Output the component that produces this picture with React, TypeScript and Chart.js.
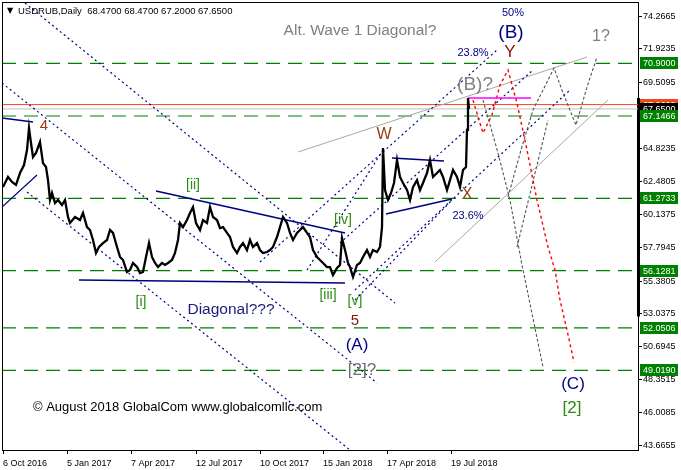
import React, { useEffect, useRef } from 'react';
import { Chart, registerables } from 'chart.js';
Chart.register(...registerables);

const FONT = '"Liberation Sans", Arial, Helvetica, sans-serif';

// ---- price series (bar index: 1 bar per trading day from 6 Oct 2016) ----
const priceBars = [0,5,9,13,17,21,24,26,28,30,33,37,40,43,45,47,49,52,55,59,62,65,67,72,77,80,84,87,90,93,96,100,104,107,110,114,117,120,124,127,130,134,137,140,143,146,149,152,155,159,162,165,169,172,175,177,180,184,187,190,193,197,200,204,207,210,214,217,220,224,227,230,234,237,240,244,247,250,254,257,260,264,267,270,274,277,280,284,287,290,294,297,300,304,307,310,314,317,320,324,327,330,334,337,339,342,345,347,350,354,357,360,364,367,370,374,377,379,380,382,385,388,391,394,397,400,404,407,410,414,417,420,424,427,430,434,437,440,444,447,450,454,457,460,463,464,465,466];
const priceCloses = [62.08,62.80,62.44,62.23,63.08,63.65,64.72,66.29,65.22,64.22,64.51,65.29,63.79,63.51,62.58,61.16,61.66,60.94,61.16,60.80,61.16,59.95,59.52,59.95,59.73,60.23,59.23,59.02,58.31,57.38,57.81,58.09,58.31,59.02,58.81,57.81,57.10,56.88,56.03,56.17,56.67,56.38,55.95,56.03,57.10,58.09,57.10,56.67,56.38,56.67,56.53,56.67,56.88,57.38,58.31,59.52,59.23,59.73,60.23,60.66,59.52,59.02,59.73,59.52,60.66,59.95,59.73,59.16,59.23,58.81,58.52,57.81,57.38,57.81,58.09,57.59,58.31,57.81,58.09,57.59,57.38,57.45,57.59,57.81,58.52,59.23,59.95,59.52,58.81,58.31,58.81,59.02,59.23,58.81,58.52,57.59,57.10,56.88,56.67,56.38,56.38,55.81,56.31,56.53,58.45,57.59,56.67,56.38,55.67,56.53,56.67,57.10,57.59,57.10,57.59,57.45,57.81,59.23,64.86,61.87,61.16,61.66,62.37,64.01,62.80,62.37,61.87,61.16,62.08,62.58,61.87,62.37,63.08,64.01,62.80,63.08,63.30,62.80,61.87,62.58,63.30,62.80,62.08,63.30,63.51,66.15,68.43,67.65];

// ---- axes ----
const xTickBars = [0, 64, 128, 193, 257, 320, 384, 448];
const xTickLabels = ['6 Oct 2016', '5 Jan 2017', '7 Apr 2017', '12 Jul 2017', '10 Oct 2017', '15 Jan 2018', '17 Apr 2018', '19 Jul 2018'];
const yTickValues = [74.2665, 71.9235, 69.5095, 64.8235, 62.4805, 60.1375, 57.7945, 55.3805, 53.0375, 50.6945, 48.3515, 46.0085, 43.6655];
const yTickLabels = ['74.2665', '71.9235', '69.5095', '64.8235', '62.4805', '60.1375', '57.7945', '55.3805', '53.0375', '50.6945', '48.3515', '46.0085', '43.6655'];

// ---- horizontal levels ----
const levelValues = [70.9, 67.1466, 61.2733, 56.1281, 52.0506, 49.019];
const levelLabels = ['70.9000', '67.1466', '61.2733', '56.1281', '52.0506', '49.0190'];
const askLevel = 67.96;
const askLabel = '67.9600';
const bidLevel = 67.65;
const bidLabel = '67.6500';
const ohlcValues = ['68.4700', '68.4700', '67.2000', '67.6500'];
const rangeBar = [[635.5, 68.43], [635.5, 52.85]];

// ---- drawn trend lines (bar, price) ----
const dotL1 = [[22, 75.198], [392, 53.817]];
const dotL2 = [[-1, 69.496], [374, 48.115]];
const dotL4 = [[24, 61.727], [347, 43.34]];
const dotU1 = [[257, 56.739], [494, 71.848]];
const dotU2 = [[337, 58.093], [530, 70.423]];
const dotU3 = [[352, 54.743], [567, 68.997]];
const dotU4 = [[352, 54.03], [449, 61.157]];
const dotU5 = [[304, 56.168], [380, 64.721]];
const solidN1 = [[-1, 67.002], [30, 66.717]];
const solidN2 = [[-1, 60.659], [34, 62.94]];
const solidN3 = [[153, 61.799], [342, 58.805]];
const solidN4 = [[76, 55.456], [342, 55.242]];
const solidN5 = [[389, 64.15], [441, 63.937]];
const solidN6 = [[383, 60.16], [449, 61.229]];
const grayG1 = [[295, 64.578], [584, 71.349]];
const grayG2 = [[432, 56.739], [605, 68.284]];
const magentaB = [[465, 68.427], [528, 68.427]];
const pathP1 = [[480, 68.284], [495, 64.507], [507, 61.157], [519, 56.525], [540, 49.255]];
const pathP2 = [[505, 61.371], [518, 64.721], [530, 67.572], [551, 70.565], [560, 68.783], [573, 66.503], [584, 69.211], [594, 71.349]];
const pathP3 = [[514, 57.808], [545, 66.859]];
const pathRed = [[470, 68.28], [480, 65.93], [489, 67.22], [497, 69.35], [505, 70.42], [514, 68.07], [524, 64.72], [534, 61.16], [545, 57.81], [552, 56.17], [557, 54.03], [564, 51.89], [571, 49.61]];

// ---- text labels (text, bar, price) ----
const noteTexts = ['Alt. Wave 1 Diagonal?', '4', '[ii]', '[i]', 'Diagonal???', '[iv]', '[iii]', '[v]', '5', '(A)', '[2]?', 'W', 'X', '23.6%', '(B)?', '23.8%', 'Y', '(B)', '50%', '1?', '(C)', '[2]'];
const noteBars = [357, 41, 190, 138, 228, 340, 325, 352, 352, 354, 359, 381, 464, 465, 472, 470, 507, 508, 510, 598, 570, 569];
const notePrices = [73.202, 66.431, 62.226, 53.888, 53.318, 59.732, 54.387, 53.96, 52.534, 50.823, 49.04, 65.79, 61.514, 60.017, 69.353, 71.634, 71.705, 73.06, 74.485, 72.774, 48.043, 46.333];
const copyrightText = '© August 2018 GlobalCom www.globalcomllc.com';
const copyrightPos = [30, 46.404];

const NAVY = '#000080';
const GREEN = '#2a8a12';
const BROWN = '#9a3a10';
const DARKRED = '#8b1010';
const GRAY = '#808080';
const noteStyle: Record<string, [string, number]> = {
  'Alt. Wave 1 Diagonal?': [GRAY, 15.5],
  '4': [BROWN, 15],
  '[ii]': [GREEN, 14],
  '[i]': [GREEN, 14],
  'Diagonal???': ['#1c1a78', 15.5],
  '[iv]': [GREEN, 14],
  '[iii]': [GREEN, 14],
  '[v]': [GREEN, 14],
  '5': [DARKRED, 15],
  '(A)': [NAVY, 17],
  '[2]?': ['#6e6e6e', 17],
  'W': [BROWN, 16],
  'X': [BROWN, 16],
  '23.6%': [NAVY, 11],
  '(B)?': [GRAY, 19],
  '23.8%': [NAVY, 11],
  'Y': [DARKRED, 17],
  '(B)': [NAVY, 19],
  '50%': [NAVY, 11],
  '1?': [GRAY, 16],
  '(C)': [NAVY, 17],
  '[2]': [GREEN, 17],
};

function seg(points: number[][], color: string, width: number, dash: number[] = [], clip: any = undefined) {
  const ds: any = {
    type: 'line',
    data: points.map(([x, y]) => ({ x, y })),
    borderColor: color,
    borderWidth: width,
    borderDash: dash,
    pointRadius: 0,
    fill: false,
    tension: 0,
  };
  if (clip !== undefined) ds.clip = clip;
  return ds;
}

const overlay = {
  id: 'overlay',
  afterDatasetsDraw(chart: any) {
    const { ctx, scales } = chart;
    const xs = scales.x, ys = scales.y;
    ctx.save();
    ctx.textAlign = 'center';
    ctx.textBaseline = 'middle';
    noteTexts.forEach((t, i) => {
      const [color, size] = noteStyle[t];
      ctx.font = `${size}px ${FONT}`;
      ctx.fillStyle = color;
      ctx.fillText(t, xs.getPixelForValue(noteBars[i]), ys.getPixelForValue(notePrices[i]));
    });
    ctx.textAlign = 'left';
    ctx.font = `13px ${FONT}`;
    ctx.fillStyle = '#000';
    ctx.fillText(copyrightText, xs.getPixelForValue(copyrightPos[0]), ys.getPixelForValue(copyrightPos[1]));
    ctx.restore();
  },
  afterDraw(chart: any) {
    const { ctx, chartArea, scales } = chart;
    const ys = scales.y;
    ctx.save();
    ctx.strokeStyle = '#000';
    ctx.lineWidth = 1;
    ctx.strokeRect(chartArea.left + 0.5, chartArea.top - 0.5, chartArea.right - chartArea.left, chartArea.bottom - chartArea.top + 1);
    // title
    ctx.fillStyle = '#000';
    ctx.textBaseline = 'middle';
    ctx.textAlign = 'center';
    ctx.font = `8px "DejaVu Sans", sans-serif`;
    ctx.fillText('▼', chartArea.left + 8, chartArea.top + 8);
    ctx.textAlign = 'left';
    ctx.font = `9.5px ${FONT}`;
    ctx.fillText('USDRUB,Daily  ' + ohlcValues.join(' '), chartArea.left + 16, chartArea.top + 8);
    // price labels on the axis
    const box = (v: number, text: string, bg: string, fg: string) => {
      const y = ys.getPixelForValue(v);
      ctx.fillStyle = bg;
      ctx.fillRect(chartArea.right + 2, Math.round(y) - 6, 38, 12);
      ctx.fillStyle = fg;
      ctx.font = `9px ${FONT}`;
      ctx.fillText(text, chartArea.right + 5, Math.round(y) + 0.5);
    };
    box(askLevel, askLabel, '#f04a1a', '#fff');
    box(bidLevel, bidLabel, '#000', '#fff');
    levelValues.forEach((v, i) => box(v, levelLabels[i], '#008000', '#fff'));
    ctx.restore();
  },
};

export default function App() {
  const ref = useRef<HTMLCanvasElement | null>(null);
  useEffect(() => {
    if (!ref.current) return;
    const full = (v: number) => [[-1, v], [635, v]];
    const dotted = [2, 3];
    const datasets: any[] = [
      seg(priceBars.map((b, i) => [b, priceCloses[i]]), '#000', 2.3),
      seg(magentaB, '#ff00ff', 1.5),
      seg(pathRed, '#ff0000', 1.4, [3, 3]),
      seg(pathP1, '#555', 1.1, [3, 2]),
      seg(pathP2, '#555', 1.1, [3, 2]),
      seg(pathP3, '#555', 1.1, [3, 2]),
      seg(solidN1, NAVY, 1.5),
      seg(solidN2, NAVY, 1.2),
      seg(solidN3, NAVY, 1.5),
      seg(solidN4, NAVY, 1.5),
      seg(solidN5, NAVY, 1.5),
      seg(solidN6, NAVY, 1.5),
      seg(dotL1, NAVY, 1.2, dotted),
      seg(dotL2, NAVY, 1.2, dotted),
      seg(dotL4, NAVY, 1.2, dotted),
      seg(dotU1, NAVY, 1.2, dotted),
      seg(dotU2, NAVY, 1.2, dotted),
      seg(dotU3, NAVY, 1.2, dotted),
      seg(dotU4, NAVY, 1.2, dotted),
      seg(dotU5, NAVY, 1.2, dotted),
      seg(grayG1, '#a8a8a8', 1),
      seg(grayG2, '#a8a8a8', 1),
      seg(full(askLevel), '#f04a1a', 1),
      seg(full(bidLevel), '#c0c0c0', 1),
      ...levelValues.map((v) => seg(full(v), '#008000', 1.2, [14, 8])),
      seg(rangeBar, '#000', 3, [], false),
    ];
    const chart = new Chart(ref.current, {
      type: 'line',
      data: { datasets },
      options: {
        animation: false,
        responsive: false,
        events: [],
        layout: { padding: { left: 2, top: 3, right: 0, bottom: 0 } },
        plugins: { legend: { display: false }, tooltip: { enabled: false } },
        scales: {
          x: {
            type: 'linear',
            position: 'bottom',
            min: -1,
            max: 635,
            grid: { display: true, drawOnChartArea: false, drawTicks: true, tickLength: 4, color: '#000' },
            border: { display: false },
            afterBuildTicks: (s: any) => { s.ticks = xTickBars.map((v) => ({ value: v })); },
            afterFit: (s: any) => { s.height = 20; s.paddingLeft = 0; s.paddingRight = 0; },
            ticks: {
              autoSkip: false,
              maxRotation: 0,
              minRotation: 0,
              align: 'start',
              padding: 4,
              color: '#000',
              font: { family: FONT, size: 9 },
              callback: (_v: any, i: number) => xTickLabels[i],
            },
          },
          y: {
            type: 'linear',
            position: 'right',
            min: 43.34,
            max: 75.2,
            grid: { display: true, drawOnChartArea: false, drawTicks: true, tickLength: 4, color: '#000' },
            border: { display: false },
            afterBuildTicks: (s: any) => { s.ticks = yTickValues.map((v) => ({ value: v })); },
            afterFit: (s: any) => { s.width = 43; s.paddingTop = 0; s.paddingBottom = 0; },
            ticks: {
              autoSkip: false,
              padding: 1,
              color: '#000',
              font: { family: FONT, size: 9 },
              callback: (_v: any, i: number) => yTickLabels[i],
            },
          },
        },
      } as any,
      plugins: [overlay],
    });
    return () => chart.destroy();
  }, []);
  return (
    <div style={{ position: 'fixed', left: 0, top: 0, width: 681, height: 470, background: '#fff' }}>
      <canvas ref={ref} width={681} height={470} style={{ display: 'block', width: 681, height: 470 }} />
    </div>
  );
}
